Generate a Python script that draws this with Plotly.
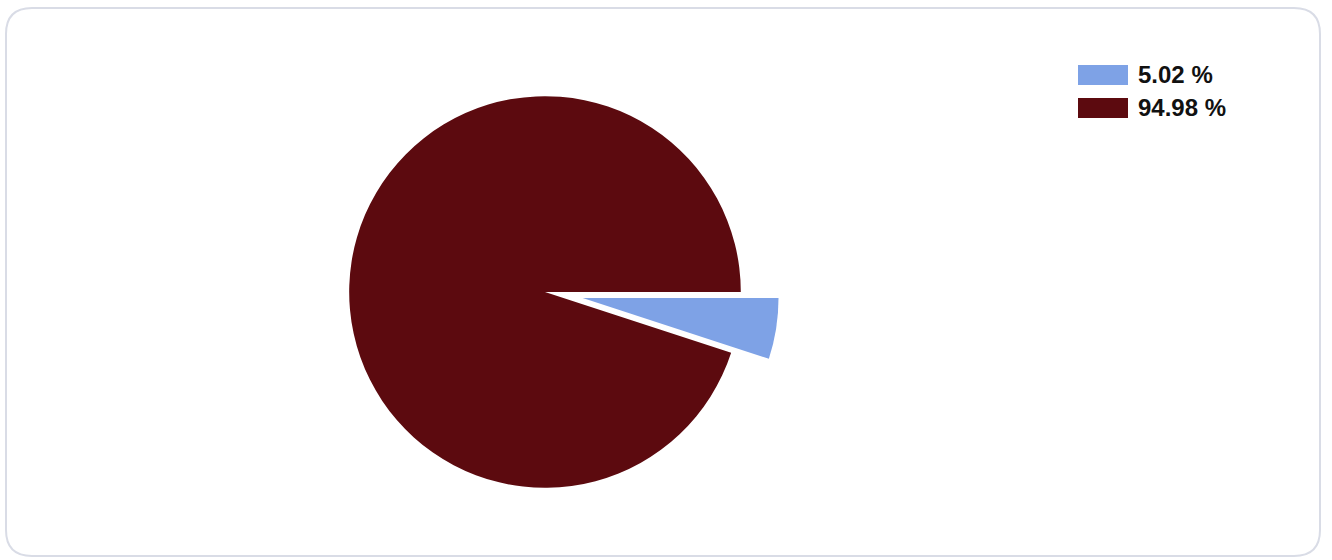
import plotly.graph_objects as go

labels = ["5.02 %", "94.98 %"]
values = [5.02, 94.98]
colors = ["#7ea2e6", "#5c0a0f"]
pulls = [0.195, 0]

W, H = 1332, 560

fig = go.Figure()
fig.add_trace(go.Pie(
    labels=labels,
    values=values,
    marker=dict(colors=colors, line=dict(width=0)),
    pull=pulls,
    sort=False,
    direction="clockwise",
    rotation=90,
    textinfo="none",
    hoverinfo="label",
    showlegend=False,
    domain=dict(x=[545/W - 234/W, 545/W + 234/W], y=[(268 - 234)/H, (268 + 234)/H]),
))

# rounded card border
x0, y0, x1, y1, r = 6/W, 1 - 8/H, 1320/W, 1 - 556/H, 26
rx, ry = r/W, r/H
path = (f"M {x0+rx},{y0} L {x1-rx},{y0} Q {x1},{y0} {x1},{y0-ry} "
        f"L {x1},{y1+ry} Q {x1},{y1} {x1-rx},{y1} L {x0+rx},{y1} "
        f"Q {x0},{y1} {x0},{y1+ry} L {x0},{y0-ry} Q {x0},{y0} {x0+rx},{y0} Z")
shapes = [dict(type="path", xref="paper", yref="paper", path=path,
               line=dict(color="#d9dce6", width=2), fillcolor="rgba(0,0,0,0)", layer="below")]

annotations = []
for i, (lab, col) in enumerate(zip(labels, colors)):
    top = 65 + i * 33
    shapes.append(dict(type="rect", xref="paper", yref="paper",
                       x0=1078/W, x1=1128/W, y0=1 - (top + 20)/H, y1=1 - top/H,
                       fillcolor=col, line=dict(width=0)))
    annotations.append(dict(xref="paper", yref="paper", x=1136/W, y=1 - (top + 10)/H,
                            text=f"<b>{lab}</b>", showarrow=False, xanchor="left", yanchor="middle",
                            font=dict(family="Liberation Sans, Arial", size=24, color="#111111")))

fig.update_layout(
    width=W, height=H,
    margin=dict(l=0, r=0, t=0, b=0),
    paper_bgcolor="white",
    plot_bgcolor="white",
    shapes=shapes,
    annotations=annotations,
)

fig.write_html("out.html", config={"displayModeBar": False},
               post_script="document.body.style.margin='0';document.body.style.padding='0';")
